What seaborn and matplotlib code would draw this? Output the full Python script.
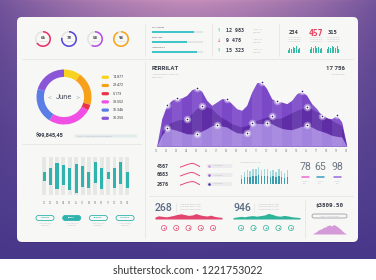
import numpy as np
import matplotlib
matplotlib.use('Agg')
import matplotlib.pyplot as plt
from matplotlib.patches import FancyBboxPatch
import seaborn as sns

# ── Data ─────────────────────────────────────────────────────────────────────
gauge_vals = [66, 78, 58, 94]
gauge_cols = ['#e8336a', '#5548d8', '#b44ee2', '#f6a41c']

progress_vals = [0.82, 0.69, 0.88]
progress_labels = ['ARCU SEMPER', 'DONEC NIBH', 'LOREM MAURIS']

stat_nums = ['12 983', '9 478', '15 323']
stat_up = [True, False, True]

kpi_nums = ['234', '457', '315']
kpi_spark = [[3, 5, 4, 6, 5, 7, 4, 5],
             [5, 7, 6, 8, 6, 7, 5, 6],
             [4, 6, 5, 7, 6, 5, 7, 4]]

donut_vals = [14.877, 29.472, 5.173, 38.552, 31.346, 30.255]
donut_labels = ['14.877', '29.472', '5.173', '38.552', '31.346', '30.255']
donut_cols = ['#f7d21e', '#f7a11a', '#e8334a', '#f04fe6', '#5a7de6', '#8a55d6']
donut_month = 'June'
total_amount = '$99,845,45'

chart_title = 'FERRILAT'
chart_total = '17 756'
days = ['01', '02', '03', '04', '05', '06', '07', '08', '09', '10',
        '11', '12', '13', '14', '15', '16', '17', '18', '19', '20']
area_x = np.arange(1, 20.5, 0.5)
area_top = [0, 27.3, 40.7, 45.7, 48, 48, 50.7, 56.3, 58.3, 54.7, 45.7, 40.7, 44,
            47.3, 47.3, 42.3, 37.3, 35.7, 40.7, 54, 63.3, 64, 57.3, 47.3, 44.7, 44,
            42.3, 45.7, 52.3, 54.7, 50.7, 42.3, 37.3, 30, 28, 27.3, 30.7, 24, 0]
area_mid = [0, 14, 20.7, 23.7, 25.7, 26.7, 27.3, 32.3, 37.3, 39.7, 39.3, 37.3, 32.3,
            28.3, 25.7, 22.3, 20.7, 19, 20.7, 24, 25.7, 27.3, 29, 29.7, 27.3, 28.3,
            30.7, 33.3, 35.7, 37.3, 39, 37.3, 34.3, 32.3, 28.3, 25.7, 23, 20.7, 0]
area_low = [0, 10.7, 17.7, 17, 15.7, 14, 12.3, 12, 12, 15, 17.3, 20.3, 21, 20, 19,
            16, 13.3, 12.7, 13.5, 23, 22.7, 22.3, 22.7, 22.3, 19.7, 17.7, 16.7, 16.3,
            18, 19.7, 20.7, 19, 16.3, 14.7, 13, 10.7, 9.7, 9, 0]
top_marks = [2, 4, 8, 14, 21, 24, 29, 33, 36]
mid_marks = [6, 9, 23, 30]
low_marks = [2, 8, 12, 18, 19, 22, 30]

col_labels = ['01', '02', '03', '04', '05', '06', '07',
              '08', '09', '10', '11', '12', '13', '14']
col_low = [14.3, 10, 5.7, 10, 5, 2.3, 8.3, 7.3, 11.7, 5.7, 15.7, 6.7, 11, 7.3]
col_high = [23.3, 26.7, 31.7, 30, 26.7, 31, 29, 23.3, 33.3, 26.7, 22.7, 26.7, 33.3, 23.3]
buttons = ['ARORAN', 'BENKT', 'FACETS', 'LATANDA']

side_nums = ['4567', '6683', '2876']
side_waves = [[0.2, 0.8, 1.5, 2.2, 2.8, 3.3, 3.6, 3.4, 2.6, 1.6, 0.8],
              [0.4, 1.0, 1.7, 2.3, 2.9, 3.4, 3.6, 3.2, 2.4, 1.4, 0.6],
              [0.3, 0.9, 1.6, 2.3, 2.8, 3.2, 3.5, 3.3, 2.5, 1.5, 0.7]]
dot_cols = ['#c79be9', '#9a5ad8', '#4b2aa6']
mini_bars = [0.55, 0.72, 0.8, 0.76, 0.9, 0.86, 1.0, 0.82, 0.9, 0.86, 0.75,
             0.82, 0.7, 0.86, 0.74, 0.66, 0.8]

score_nums = ['78', '65', '98']
score_cols = ['#ea6ad8', '#3a9fc0', '#9a6ae0']

wave_nums = ['268', '946']
wave_pink = [2.0, 3.2, 2.6, 2.2, 2.8, 3.6, 4.6, 5.2, 4.4, 3.6, 4.0, 5.4, 4.2,
             3.4, 3.0, 3.8, 2.6, 2.0, 1.6]
wave_teal = [1.4, 2.0, 2.6, 2.2, 3.0, 3.4, 2.8, 3.4, 4.0, 5.6, 4.6, 3.2, 2.8,
             3.6, 3.0, 2.2, 1.8, 1.4]
price = '$3809.50'
price_area = [0.5, 1.5, 3.0, 4.5, 5.0, 6.5, 7.0, 8.5, 9.0, 8.0, 9.5, 8.5, 7.0,
              5.5, 3.5, 1.5, 0.5]

# ── Style ────────────────────────────────────────────────────────────────────
W, H = 376, 280
INK = '#363b47'
SOFT = '#b8bbc0'
LINE = '#e2e2e0'
TEAL = '#2fb3ae'
NOEDGE = dict(saturation=1, linewidth=0, edgecolor='none')

sns.set_theme(style='white')
plt.rcParams['font.family'] = ['Roboto', 'DejaVu Sans']

fig = plt.figure(figsize=(W / 100, H / 100), dpi=100)
bg = fig.add_axes([0, 0, 1, 1])


def px_axes(x, y, w, h):
    ax = fig.add_axes([x / W, 1 - (y + h) / H, w / W, h / H])
    ax.set_axis_off()
    return ax


def tx(x, y, s, size, color=INK, ha='left', weight='normal', **kw):
    bg.text(x, y, s, fontsize=size, color=color, ha=ha, va='center',
            fontweight=weight, zorder=5, **kw)


def lorem(x, y, s='lorem ipsum dolor', size=1.5, ha='left'):
    tx(x, y, s, size, color=SOFT, ha=ha)


def hline(y, x0, x1):
    bg.plot([x0, x1], [y, y], color=LINE, lw=0.5, zorder=2)


def vline(x, y0, y1):
    bg.plot([x, x], [y0, y1], color=LINE, lw=0.5, zorder=2)


def pill(x, y, w, h, fc, ec='none', lw=0.5):
    bg.add_patch(FancyBboxPatch((x, y), w, h, boxstyle=f'round,pad=0,rounding_size={h / 2}',
                                fc=fc, ec=ec, lw=lw, zorder=3))


# ── Background + panel ───────────────────────────────────────────────────────
yy, xx = np.mgrid[0:259, 0:W]
t = (yy / 258.0)[..., None] ** 0.6
d = (np.abs(xx - W / 2) / (W / 2))[..., None] ** 1.6
top_c = np.array([198, 143, 186]) / 255
edge_c = np.array([118, 86, 156]) / 255
bot_c = np.array([72, 56, 138]) / 255
img = (top_c * (1 - d) + edge_c * d) * (1 - t) + bot_c * t
bg.imshow(img, extent=(0, W, 259, 0), aspect='auto', zorder=0)
bg.set_xlim(0, W)
bg.set_ylim(H, 0)
bg.set_axis_off()

bg.add_patch(FancyBboxPatch((17, 18), 341, 225, boxstyle='round,pad=0,rounding_size=5',
                            fc='#2a1c5a', ec='none', alpha=0.25, zorder=1))
bg.add_patch(FancyBboxPatch((17, 17), 341, 225, boxstyle='round,pad=0,rounding_size=5',
                            fc='#f7f7f5', ec='none', zorder=1))
tx(188, 271, 'shutterstock.com · 1221753022', 7.6, color='#333333', ha='center',
   family=['Lato', 'DejaVu Sans'])

# dividers
vline(145, 24, 56); vline(212, 24, 56); vline(279, 24, 56)
hline(59, 22, 353)
vline(145, 62, 238)
hline(144, 22, 141)
hline(196, 149, 353)
vline(305, 200, 238)

# ── Top row: gauges ──────────────────────────────────────────────────────────
for v, c, x in zip(gauge_vals, gauge_cols, [43, 69, 95, 121]):
    ax = px_axes(x - 8, 39 - 8, 16, 16)
    ax.pie([v, 100 - v], colors=[c, '#e4e4e4'], startangle=90, counterclock=False,
           wedgeprops=dict(width=0.2, edgecolor='none'))
    ax.set_xlim(-1, 1); ax.set_ylim(-1, 1)
    tx(x, 38.2, str(v), 3.1, weight='bold', ha='center')
    lorem(x, 41.4, 'lorem ipsum', 1.1, ha='center')

# progress bars
ax = px_axes(152, 27, 51, 30)
sns.barplot(x=[1, 1, 1], y=[0, 1, 2], orient='h', color='#e4e6e6', width=0.22,
            ax=ax, **NOEDGE)
sns.barplot(x=progress_vals, y=[0, 1, 2], orient='h', color='#40c6c8', width=0.22,
            ax=ax, **NOEDGE)
ax.set_xlim(0, 1); ax.set_ylim(2.5, -0.5); ax.set_axis_off()
for i, lab in enumerate(progress_labels):
    tx(152, 28 + 10 * i, lab, 1.4, color='#5a6070')

# stat numbers
for i, (num, up) in enumerate(zip(stat_nums, stat_up)):
    y = 31 + 10 * i
    tx(219, y, '↑' if up else '↓', 3.6, color='#3cc3a8' if up else '#e8405a',
       ha='center', family=['DejaVu Sans'])
    tx(226, y, num, 3.6, weight='bold', family=['DejaVu Sans Mono', 'DejaVu Sans'])
    lorem(253, y - 1.2, 'lorem ipsum', 1.2)
    lorem(253, y + 1.2, 'dolor amet', 1.2)

# KPI numbers with sparklines
for i, (num, spark, cx) in enumerate(zip(kpi_nums, kpi_spark, [294, 316, 333])):
    red = i == 1
    tx(cx, 33, num, 5.8 if red else 4.0, color='#e0405a' if red else INK,
       weight='bold', ha='center', family=['DejaVu Sans Mono', 'DejaVu Sans'])
    for k in range(3):
        lorem(cx, 38 + 1.8 * k, 'lorem ipsum dolor', 1.1, ha='center')
    ax = px_axes(cx - 6.5, 46, 13, 7)
    sns.barplot(x=list(range(len(spark))), y=spark, color='#34bba6', width=0.55,
                ax=ax, **NOEDGE)
    ax.set_ylim(0, max(spark)); ax.set_axis_off()

# ── Donut ────────────────────────────────────────────────────────────────────
ax = px_axes(64 - 27.5, 97 - 27.5, 55, 55)
ax.pie(donut_vals, colors=donut_cols, startangle=90, counterclock=False,
       wedgeprops=dict(width=0.27, edgecolor='none'))
ax.set_xlim(-1, 1); ax.set_ylim(-1, 1)
tx(64, 97.5, donut_month, 5.4, color='#4a5060', ha='center')
tx(50, 97.5, '<', 5.8, color='#4a5060', ha='center', weight='light')
tx(78, 97.5, '>', 5.8, color='#4a5060', ha='center', weight='light')
for i, (lab, c) in enumerate(zip(donut_labels, donut_cols)):
    y = 77.3 + 8.2 * i
    pill(101.5, y - 1.6, 7.5, 3.2, c)
    tx(113, y, lab, 2.6, color='#3a3f4a')
tx(36, 136, total_amount, 4.0, weight='bold')
pill(74, 134.5, 63, 3.2, '#e2ecec')
lorem(77, 136.1, 'lorem ipsum dolor sit amet consectetur adipiscing', 1.2)

# ── Area chart ───────────────────────────────────────────────────────────────
tx(152, 69, chart_title, 4.4, weight='bold', color='#3a3f4a')
lorem(152, 74.5, 'lorem ipsum dolor sit amet consect', 1.3)
lorem(152, 77, 'adipiscing elit', 1.3)
tx(345, 69, chart_total, 4.4, weight='bold', ha='right', color='#3a3f4a')
lorem(345, 74.5, 'lorem ipsum dolor', 1.3, ha='right')

ax = px_axes(156.7, 75, 190, 71)
ax.set_xlim(1, 20); ax.set_ylim(0, 71)
top_poly = ax.fill_between(area_x, area_top, color='#7b48c8', lw=0, zorder=1)
ax.fill_between(area_x, area_mid, color='#5a2aa2', lw=0, alpha=0.85, zorder=2)
ax.fill_between(area_x, area_low, color='#a283de', lw=0, zorder=3)
clip = top_poly.get_paths()[0]
for i in range(1, 21, 2):
    sp = ax.axvspan(i - 0.5, i + 0.5, color='white', alpha=0.08, lw=0, zorder=4)
    sp.set_clip_path(clip, ax.transData)
for layer, idx in [(area_top, top_marks), (area_mid, mid_marks), (area_low, low_marks)]:
    xs = area_x[idx]
    ys = np.array(layer)[idx]
    ax.scatter(xs, ys, s=30, c='white', alpha=0.35, lw=0, zorder=6, clip_on=False)
    ax.scatter(xs, ys, s=9, c='white', lw=0, zorder=7, clip_on=False)
    ax.scatter(xs, ys, s=1.5, c='#3b1d80', lw=0, zorder=8, clip_on=False)
for i, dlab in enumerate(days):
    ax.text(i + 1, -5, dlab, fontsize=2.1, color='#8a8d94', ha='center', va='center',
            clip_on=False)

# ── Floating bars chart ──────────────────────────────────────────────────────
ax = px_axes(41, 157, 89.5, 38)
sns.barplot(x=col_labels, y=[38] * len(col_labels), color='#e6e8e6', width=0.62,
            ax=ax, **NOEDGE)
ax.bar(range(len(col_labels)), np.array(col_high) - np.array(col_low), bottom=col_low,
       width=0.48, color=TEAL, lw=0)
ax.set_ylim(0, 38); ax.set_xlim(-0.5, len(col_labels) - 0.5); ax.set_axis_off()
for i, lab in enumerate(col_labels):
    ax.text(i, -7.5, lab, fontsize=2.1, color='#8a8d94', ha='center', va='center',
            clip_on=False)

for i, lab in enumerate(buttons):
    cx = 45 + 26.7 * i
    filled = i == 1
    pill(cx - 9, 215.5, 18, 5, TEAL if filled else '#f7f7f5', ec=TEAL, lw=0.6)
    tx(cx, 218, lab, 1.6, color='white' if filled else TEAL, ha='center', weight='bold')
    lorem(cx, 223.5, 'lorem ipsum dolor', 1.1, ha='center')
    lorem(cx, 225.5, 'sit amet elit', 1.1, ha='center')

# ── Middle right row ─────────────────────────────────────────────────────────
for i, (num, wv, dc) in enumerate(zip(side_nums, side_waves, dot_cols)):
    y = 166 + 9 * i
    tx(157, y, num, 3.6, weight='bold', family=['DejaVu Sans Mono', 'DejaVu Sans'])
    ax = px_axes(180, y - 3, 20, 4.5)
    sns.lineplot(x=list(range(len(wv))), y=wv, color='#e4487c', lw=0.7, ax=ax)
    ax.set_xlim(0, len(wv) - 1); ax.set_ylim(0, 4); ax.set_axis_off()
    pill(206.5, y - 2, 26, 4, '#ebebed')
    bg.scatter([209.3], [y], s=3.5, c=dc, lw=0, zorder=4)
    lorem(213, y, 'lorem ipsum', 1.3)

lorem(240, 162, 'lorem ipsum dolor sit amet', 1.3)
ax = px_axes(240, 167, 49, 17)
sns.barplot(x=list(range(len(mini_bars))), y=mini_bars, color='#a4d8dc', width=0.45,
            ax=ax, **NOEDGE)
sns.barplot(x=list(range(len(mini_bars))), y=np.array(mini_bars) * 0.55, color='#3c9cb0',
            width=0.45, ax=ax, **NOEDGE)
ax.set_ylim(0, 1); ax.set_axis_off()
for k in range(9):
    lorem(242 + 5.5 * k, 187, '1', 1.2, ha='center')

for i, (num, c) in enumerate(zip(score_nums, score_cols)):
    cx = [305, 320, 337.5][i]
    tx(cx, 167.5, num, 7.6, color='#6d7684', ha='center')
    bg.plot([cx - 3.5, cx + 3.5], [177, 177], color=c, lw=1.1, zorder=4)
    lorem(cx, 181, 'lorem ips', 1.1, ha='center')
    lorem(cx, 183, 'dolor', 1.1, ha='center')

# ── Bottom row: waves + price ────────────────────────────────────────────────
for num, vals, col, x0, icon_x0, icon_dx in [
        (wave_nums[0], wave_pink, '#e2466f', 155, 164, 12.25),
        (wave_nums[1], wave_teal, '#2db39a', 233, 241, 12.5)]:
    tx(x0, 208, num, 7.6, color='#5b6b82', weight='medium')
    vline(x0 + 21, 203, 212)
    for k in range(3):
        lorem(x0 + 25, 204.5 + 2.2 * k, 'lorem ipsum dolor sit amet', 1.3)
    ax = px_axes(x0, 212, 67, 7)
    ax.fill_between(range(len(vals)), vals, color=col, lw=0)
    ax.set_xlim(0, len(vals) - 1); ax.set_ylim(0, 7); ax.set_axis_off()
    ax = px_axes(icon_x0 - icon_dx / 2, 225, icon_dx * 5, 6)
    ax.scatter(range(5), [0] * 5, s=14, facecolors='none', edgecolors=col, lw=0.5)
    ax.scatter(range(5), [0] * 5, s=1.2, c=col, lw=0)
    ax.set_xlim(-0.5, 4.5); ax.set_ylim(-1, 1); ax.set_axis_off()

tx(329.5, 206, price, 4.2, weight='bold', ha='center',
   family=['DejaVu Sans Mono', 'DejaVu Sans'])
pill(312, 214, 35, 4, '#f7f7f5', ec='#8a8f98', lw=0.5)
lorem(329.5, 216, 'lorem ipsum dolor sit amet', 1.2, ha='center')
ax = px_axes(313, 222, 33, 12)
ax.fill_between(range(len(price_area)), price_area, color='#d49ad8', lw=0)
ax.set_xlim(0, len(price_area) - 1); ax.set_ylim(0, 12); ax.set_axis_off()

fig.savefig('out.png', dpi=100)
